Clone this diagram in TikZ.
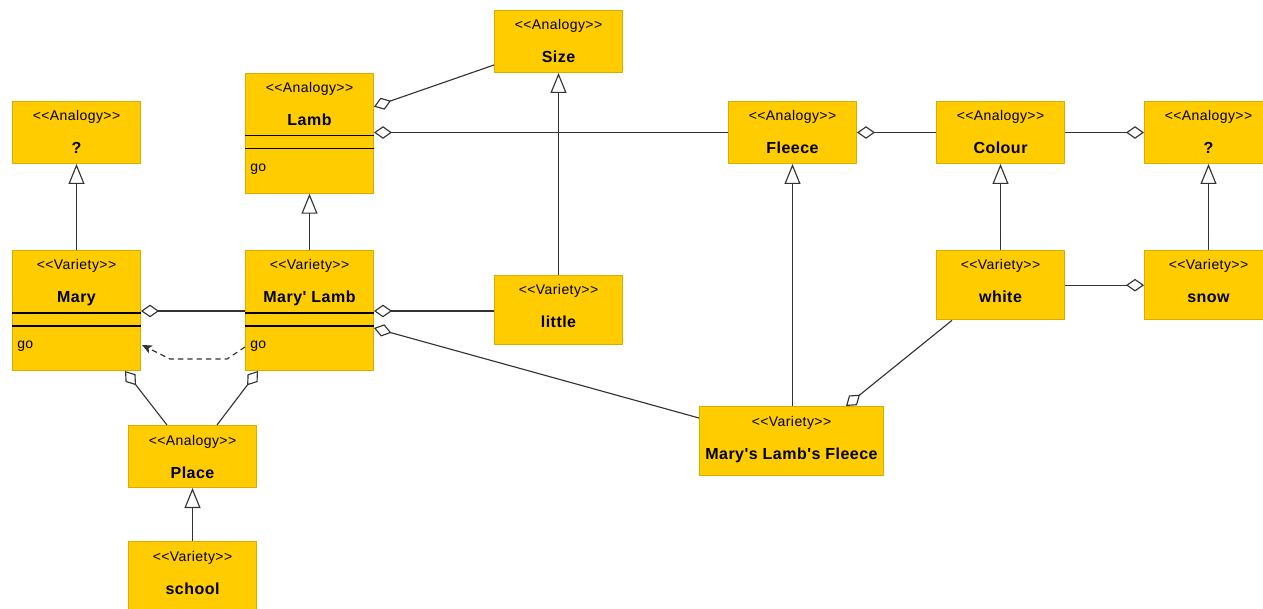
\documentclass[tikz,border=0pt]{standalone}
\usepackage{fontspec}
\setmainfont{Liberation Sans}
\newfontfamily\stereofont[LetterSpace=3,Ligatures=TeXOff]{Liberation Sans}
\newfontfamily\namefont[LetterSpace=3,Ligatures=TeXOff]{Liberation Sans}
\usetikzlibrary{arrows.meta,calc}

\definecolor{umlfill}{HTML}{FFCC00}
\definecolor{umledge}{HTML}{D9AC00}
\definecolor{wirecol}{HTML}{333333}

\tikzset{
  umlbox/.style={draw=umledge, fill=umlfill, line width=0.75pt, anchor=north west,
    inner sep=0pt, minimum width=96pt, minimum height=46.5pt},
  tallbox/.style={minimum height=90pt},
  midbox/.style={minimum height=52pt},
  stereo/.style={anchor=base, inner sep=0pt, font=\stereofont\fontsize{10.5}{12}\selectfont},
  cname/.style={anchor=base, inner sep=0pt, font=\namefont\bfseries\fontsize{12}{14}\selectfont},
  opname/.style={anchor=base west, inner sep=0pt, font=\stereofont\fontsize{10.5}{12}\selectfont},
  compart/.style={line width=1pt, black},
  wire/.style={draw=wirecol, line width=0.85pt},
  agg/.style={wire, {Diamond[length=13.5pt, width=9.5pt, fill=white]}-},
  gen/.style={wire, -{Triangle[length=15pt, width=12pt, fill=white]}},
  dep/.style={wire, dash pattern=on 4pt off 3pt, -{Stealth[length=7.5pt, width=6.5pt, inset=2pt]}}
}

% class box: name, x, y, extra style, stereotype, class name
\newcommand\umlclass[6]{%
  \node[umlbox,#4] (#1) at (#2,#3) {};
  \node[stereo] (#1-st) at ($(#1.north)+(0,20)$) {<<#5>>};
  \node[cname] (#1-nm) at ($(#1.north)+(0,53)$) {#6};
}
% attribute/operation compartments with one operation
\newcommand\umlops[2]{%
  \draw[compart] ($(#1.north west)+(0,63)$) -- ($(#1.north east)+(0,63)$);
  \draw[compart] ($(#1.north west)+(0,76)$) -- ($(#1.north east)+(0,76)$);
  \node[opname] (#1-op) at ($(#1.north west)+(5,99)$) {#2};
}

\begin{document}
\begin{tikzpicture}[x=0.75pt,y=-0.75pt]
\useasboundingbox (0,0) rectangle (1263,609);

% analogies
\umlclass{qa}{12}{101}{}{Analogy}{?}
\umlclass{lamb}{245}{72.7}{tallbox}{Analogy}{Lamb}
\umlops{lamb}{go}
\umlclass{size}{494}{10}{}{Analogy}{Size}
\umlclass{fleece}{728}{101}{}{Analogy}{Fleece}
\umlclass{colour}{936}{101}{}{Analogy}{Colour}
\umlclass{qr}{1144}{101}{}{Analogy}{?}
\umlclass{place}{128}{425}{}{Analogy}{Place}

% varieties
\umlclass{mary}{12}{250}{tallbox}{Variety}{Mary}
\umlops{mary}{go}
\umlclass{mlamb}{245}{250}{tallbox}{Variety}{Mary' Lamb}
\umlops{mlamb}{go}
\umlclass{little}{494}{275}{midbox}{Variety}{little}
\umlclass{white}{936}{250}{midbox}{Variety}{white}
\umlclass{snow}{1144}{250}{midbox}{Variety}{snow}
\umlclass{school}{128}{541}{midbox}{Variety}{school}
\umlclass{mlf}{699}{406}{midbox,minimum width=138pt}{Variety}{Mary's Lamb's Fleece}

% generalisations
\draw[gen] (mary.north) -- (qa.south);
\draw[gen] (mlamb.north) -- (lamb.south);
\draw[gen] (little.north) -- (size.south);
\draw[gen] (mlf.north -| fleece.south) -- (fleece.south);
\draw[gen] (white.north) -- (colour.south);
\draw[gen] (snow.north) -- (qr.south);
\draw[gen] (school.north) -- (place.south);

% aggregations
\draw[agg] ($(lamb.north east)+(0,34)$) -- ($(size.south west)+(0,-8)$);
\draw[agg] (lamb.north east |- fleece.west) -- (fleece.west);
\draw[agg] (fleece.east) -- (colour.west);
\draw[agg] (qr.west) -- (colour.east);
\coordinate (mlamb-r) at ($(mlamb.north east)+(0,61)$);
\draw[agg] ($(mary.north east)+(0,61)$) -- ($(mlamb.north west)+(0,61)$);
\draw[agg] (mlamb-r) -- (little.west |- mlamb-r);
\draw[agg] ($(mlamb.north east)+(0,78)$) -- ($(mlf.north west)+(0,12)$);
\draw[agg] (snow.west) -- (white.east);
\draw[agg] ($(mlf.north west)+(147,0)$) -- ($(white.south west)+(16,0)$);
\draw[agg] ($(mary.south west)+(113,0)$) -- ($(place.north west)+(39,0)$);
\draw[agg] ($(mlamb.south west)+(13,0)$) -- ($(place.north west)+(89,0)$);

% dependency between the two operations
\draw[dep] ($(mlamb.north west)+(0,97)$) -- ++(-18,12) -- ++(-57,0) -- ($(mary.north east)+(1,95)$);
\end{tikzpicture}
\end{document}
